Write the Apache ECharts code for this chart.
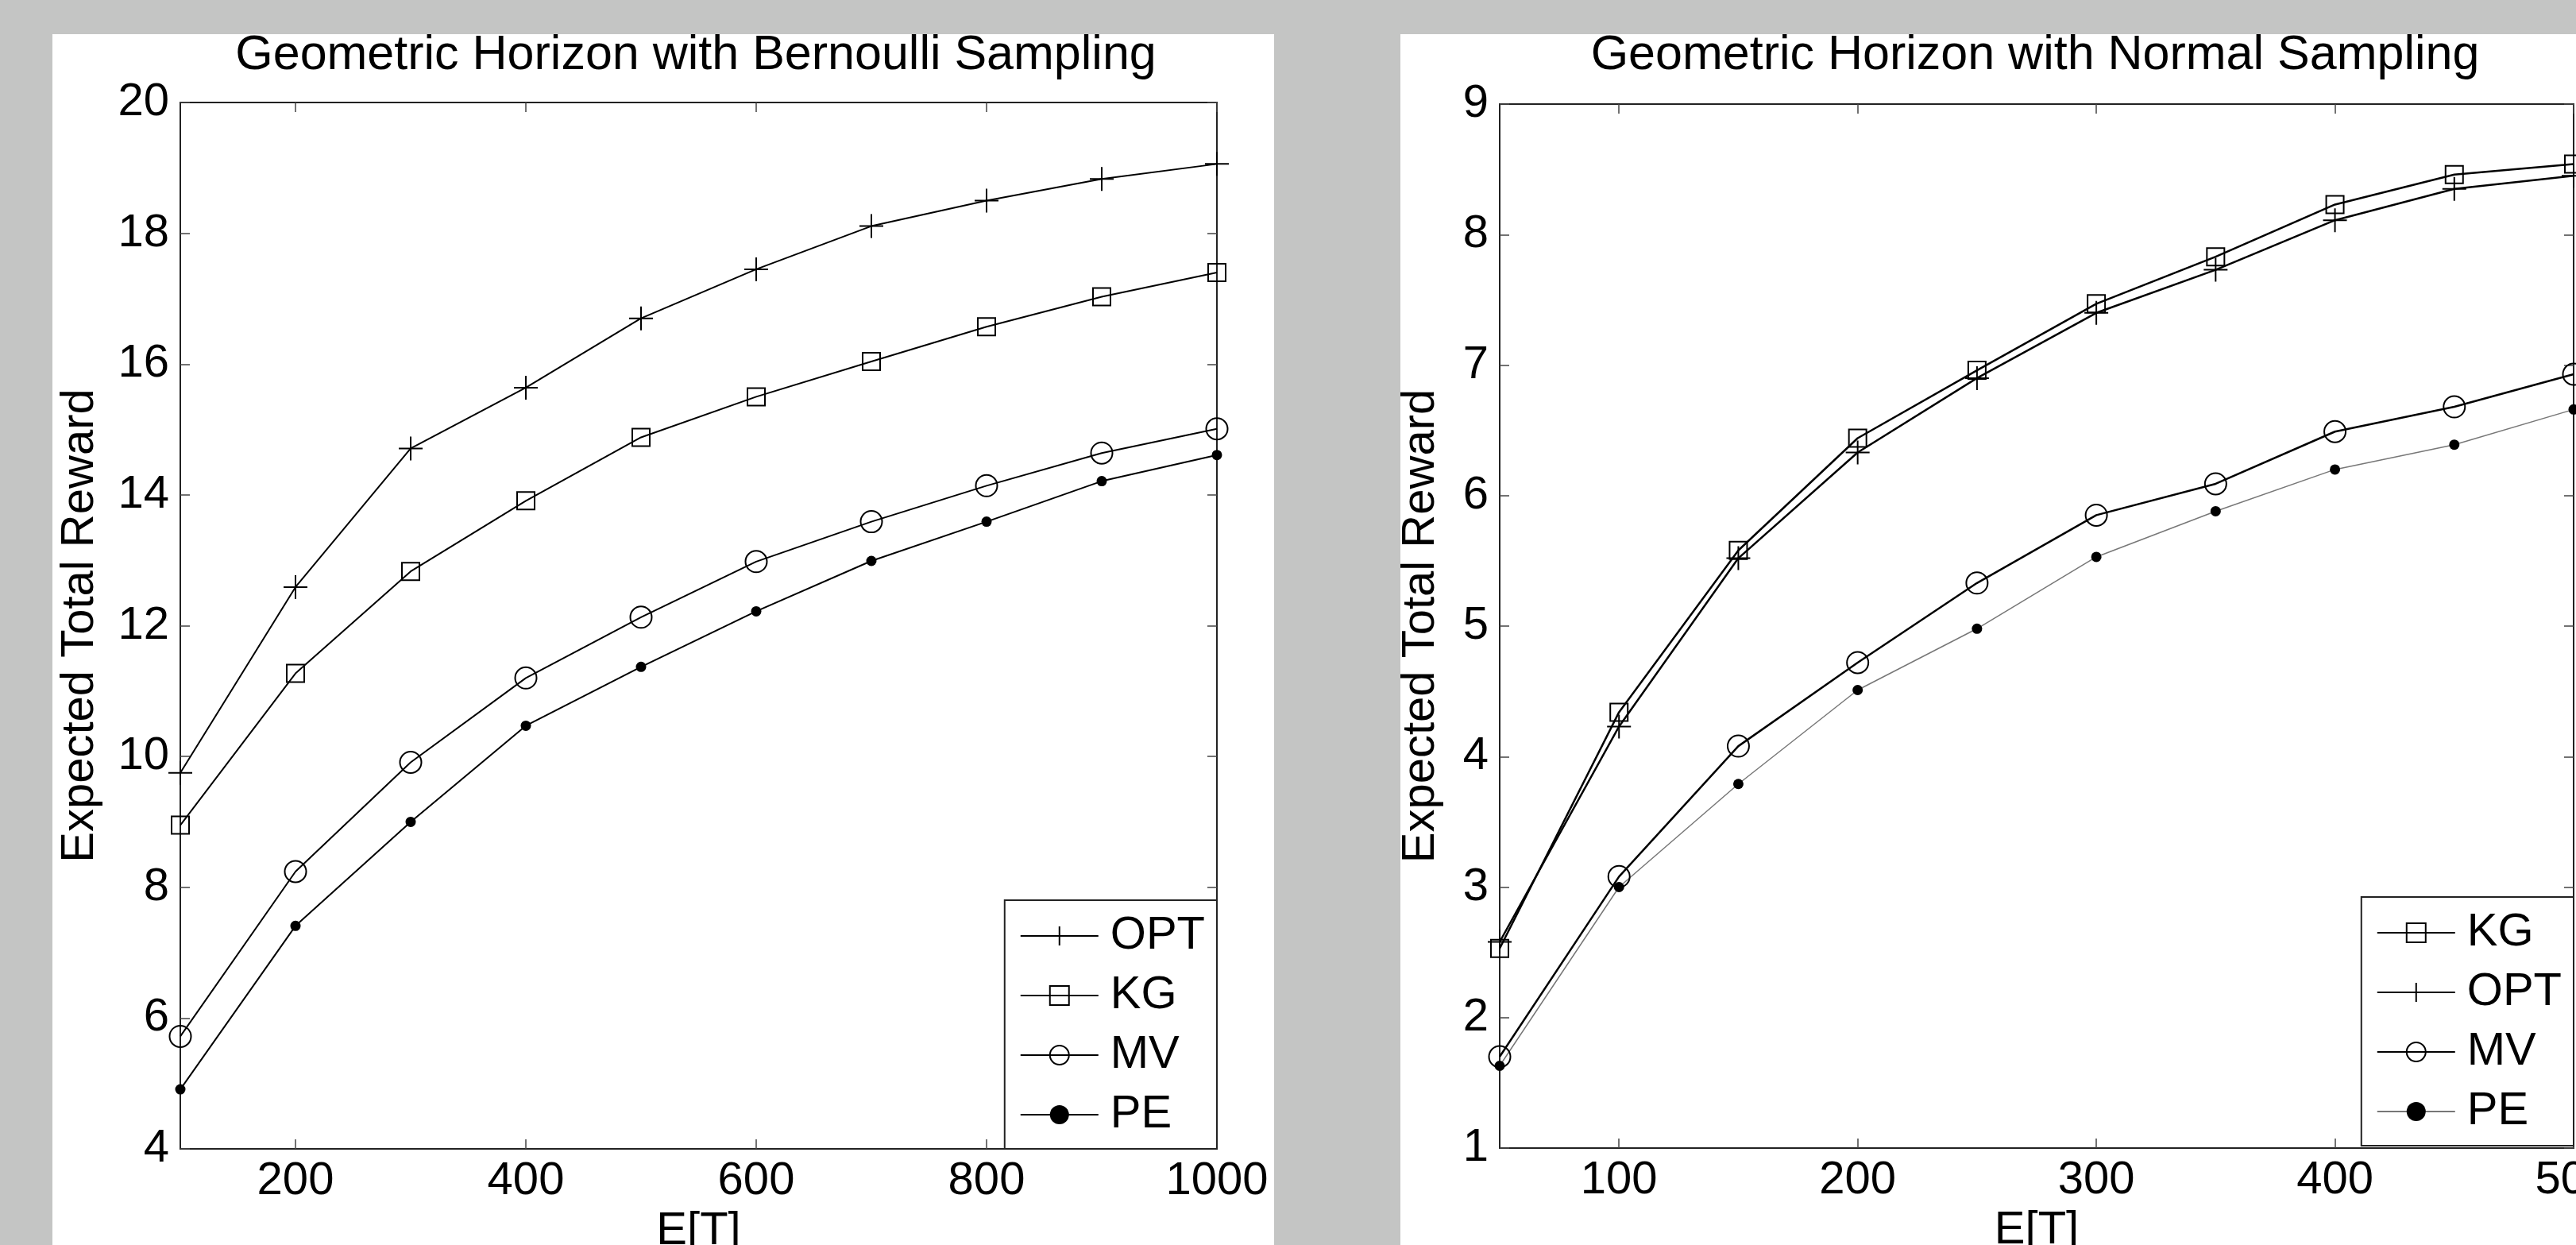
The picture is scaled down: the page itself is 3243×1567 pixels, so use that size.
<!DOCTYPE html>
<html>
<head>
<meta charset="utf-8">
<script src="https://cdn.jsdelivr.net/npm/echarts@6/dist/echarts.min.js"></script>
<style>
  html, body { margin: 0; padding: 0; background: #c4c5c4; width: 3243px; height: 1567px; overflow: hidden; }
  .panel { position: absolute; top: 43px; height: 1524px; background: #fff; }
  #bern { left: 66px; width: 1538px; }
  #norm { left: 1763px; width: 1480px; }
</style>
</head>
<body>
<div id="bern" class="panel"></div>
<div id="norm" class="panel"></div>
<script>
// left panel: Bernoulli sampling
var bernT = [100, 200, 300, 400, 500, 600, 700, 800, 900, 1000];
var bernTicks = [200, 400, 600, 800, 1000];
var bernOPT = [9.75, 12.59, 14.71, 15.64, 16.70, 17.45, 18.11, 18.50, 18.83, 19.06];
var bernKG = [8.95, 11.27, 12.83, 13.91, 14.88, 15.50, 16.04, 16.57, 17.03, 17.40];
var bernMV = [5.72, 8.24, 9.91, 11.20, 12.13, 12.98, 13.59, 14.14, 14.64, 15.01];
var bernPE = [4.91, 7.41, 9.00, 10.47, 11.37, 12.22, 12.99, 13.59, 14.21, 14.61];

// right panel: Normal sampling
var normT = [50, 100, 150, 200, 250, 300, 350, 400, 450, 500];
var normTicks = [100, 200, 300, 400, 500];
var normKG = [2.53, 4.34, 5.58, 6.44, 6.96, 7.47, 7.83, 8.23, 8.46, 8.54];
var normOPT = [2.58, 4.23, 5.52, 6.33, 6.90, 7.40, 7.73, 8.11, 8.35, 8.45];
var normMV = [1.70, 3.08, 4.08, 4.72, 5.33, 5.85, 6.09, 6.49, 6.68, 6.93];
var normPE = [1.63, 3.00, 3.79, 4.51, 4.98, 5.53, 5.88, 6.20, 6.39, 6.66];

var FONT = "'Liberation Sans', Arial, Helvetica, sans-serif";
var FS = 58;
var plus = 'path://M10,0 L10,20 M0,10 L20,10';
var marks = {
    OPT: { symbol: plus, size: 30 },
    KG: { symbol: 'rect', size: 22 },
    MV: { symbol: 'circle', size: 27 },
    PE: { symbol: 'circle', size: 13, filled: true }
};

function makeSeries(name, xs, ys, lineColor, lineWidth) {
    var m = marks[name];
    return {
        name: name,
        type: 'line',
        data: xs.map(function (x, i) { return [x, ys[i]]; }),
        symbol: m.symbol,
        symbolSize: m.size,
        clip: false,
        lineStyle: { color: lineColor, width: lineWidth },
        itemStyle: {
            color: m.filled ? '#000' : 'rgba(0,0,0,0)',
            borderColor: '#000',
            borderWidth: m.filled ? 0 : 2
        },
        emphasis: { disabled: true }
    };
}

function axisLine() {
    return { show: true, onZero: false, lineStyle: { color: '#222', width: 2 } };
}

function xAxes(min, max, ticks, nameGap) {
    var tick = { show: true, inside: true, length: 12, customValues: ticks, lineStyle: { color: '#444', width: 1.5 } };
    return [{
        type: 'value', min: min, max: max, position: 'bottom',
        name: 'E[T]', nameLocation: 'middle', nameGap: nameGap,
        nameTextStyle: { fontFamily: FONT, fontSize: FS, color: '#000' },
        axisLine: axisLine(), axisTick: tick, splitLine: { show: false },
        axisLabel: {
            customValues: ticks, fontFamily: FONT, fontSize: FS, color: '#000', margin: 12,
            formatter: function (v) { return String(v); }
        }
    }, {
        type: 'value', min: min, max: max, position: 'top',
        axisLine: axisLine(), axisTick: tick, splitLine: { show: false },
        axisLabel: { show: false }
    }];
}

function yAxes(min, max, step, nameGap) {
    var tick = { show: true, inside: true, length: 12, lineStyle: { color: '#444', width: 1.5 } };
    return [{
        type: 'value', min: min, max: max, interval: step, position: 'left',
        name: 'Expected Total Reward', nameLocation: 'middle', nameGap: nameGap,
        nameTextStyle: { fontFamily: FONT, fontSize: FS, color: '#000' },
        axisLine: axisLine(), axisTick: tick, splitLine: { show: false },
        axisLabel: { fontFamily: FONT, fontSize: FS, color: '#000', margin: 14 }
    }, {
        type: 'value', min: min, max: max, interval: step, position: 'right',
        axisLine: axisLine(), axisTick: tick, splitLine: { show: false },
        axisLabel: { show: false }
    }];
}

function legend(order, right, bottom) {
    return {
        data: order, orient: 'vertical', right: right, bottom: bottom,
        backgroundColor: '#fff', borderColor: '#222', borderWidth: 2,
        padding: [16, 15, 14, 19], itemGap: 17, itemWidth: 98, itemHeight: 30,
        textStyle: { fontFamily: FONT, fontSize: FS, lineHeight: FS, color: '#000', padding: [0, 0, 0, 10] },
        selectedMode: false
    };
}

function title(text, x) {
    return {
        type: 'text', x: x, y: 27, silent: true,
        style: {
            text: text, align: 'center', verticalAlign: 'middle',
            fontFamily: FONT, fontSize: 61, fill: '#000'
        }
    };
}

var bernChart = echarts.init(document.getElementById('bern'));
bernChart.setOption({
    animation: false,
    graphic: [title('Geometric Horizon with Bernoulli Sampling', 810)],
    grid: { left: 161, right: 72, top: 86, bottom: 121, outerBoundsMode: 'none' },
    xAxis: xAxes(100, 1000, bernTicks, 74),
    yAxis: yAxes(4, 20, 2, 97),
    legend: legend(['OPT', 'KG', 'MV', 'PE'], 72, 121),
    series: [
        makeSeries('OPT', bernT, bernOPT, '#000', 2),
        makeSeries('KG', bernT, bernKG, '#000', 2),
        makeSeries('MV', bernT, bernMV, '#000', 2),
        makeSeries('PE', bernT, bernPE, '#000', 2)
    ]
});

var normChart = echarts.init(document.getElementById('norm'));
normChart.setOption({
    animation: false,
    graphic: [title('Geometric Horizon with Normal Sampling', 799)],
    grid: { left: 125, right: 3, top: 88, bottom: 122, outerBoundsMode: 'none' },
    xAxis: xAxes(50, 500, normTicks, 74),
    yAxis: yAxes(1, 9, 1, 70),
    legend: legend(['KG', 'OPT', 'MV', 'PE'], 3, 125),
    series: [
        makeSeries('KG', normT, normKG, '#000', 2.5),
        makeSeries('OPT', normT, normOPT, '#000', 2.5),
        makeSeries('MV', normT, normMV, '#000', 2.5),
        makeSeries('PE', normT, normPE, '#777', 1.5)
    ]
});
</script>
</body>
</html>
